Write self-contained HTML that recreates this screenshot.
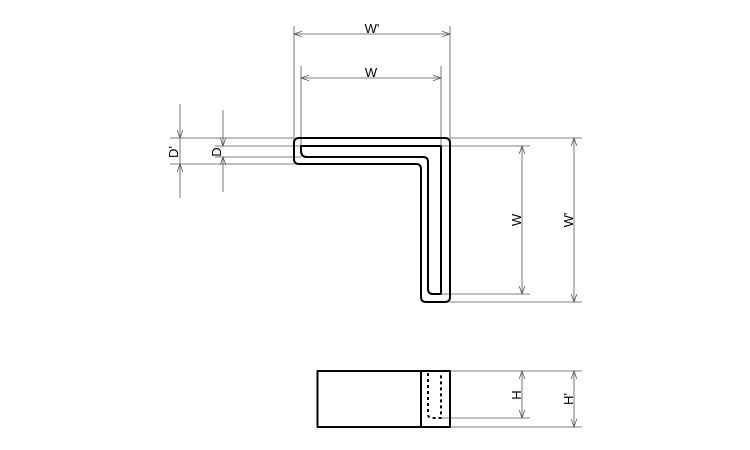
<!DOCTYPE html>
<html><head><style>body{margin:0;background:#fff}svg{display:block}text{font-family:"Liberation Sans",sans-serif;font-size:13px;fill:#000}</style></head><body>
<svg width="750" height="450" viewBox="0 0 750 450">
<defs>
<marker id="a" markerWidth="10" markerHeight="8" refX="8" refY="4" orient="auto-start-reverse" markerUnits="userSpaceOnUse"><path d="M0,1.2 L8,4 L0,6.8" fill="none" stroke="#555" stroke-width="0.8"/></marker>
</defs>
<g stroke="#555" stroke-width="0.8" fill="none">
<line x1="294" y1="26" x2="294" y2="138"/><line x1="450" y1="26" x2="450" y2="138"/>
<line x1="294" y1="34" x2="450" y2="34" marker-start="url(#a)" marker-end="url(#a)"/>
<line x1="301" y1="66" x2="301" y2="146"/><line x1="441" y1="66" x2="441" y2="146"/>
<line x1="301" y1="78" x2="441" y2="78" marker-start="url(#a)" marker-end="url(#a)"/>
<line x1="441" y1="146" x2="530" y2="146"/><line x1="441" y1="294" x2="530" y2="294"/>
<line x1="522" y1="146" x2="522" y2="294" marker-start="url(#a)" marker-end="url(#a)"/>
<line x1="450" y1="138" x2="582" y2="138"/><line x1="450" y1="302" x2="582" y2="302"/>
<line x1="574" y1="138" x2="574" y2="302" marker-start="url(#a)" marker-end="url(#a)"/>
<line x1="170" y1="138" x2="294" y2="138"/><line x1="170" y1="164" x2="294" y2="164"/>
<line x1="215" y1="146" x2="301" y2="146"/><line x1="215" y1="157" x2="301" y2="157"/>
<line x1="180" y1="104" x2="180" y2="138" marker-end="url(#a)"/><line x1="180" y1="198" x2="180" y2="164" marker-end="url(#a)"/><line x1="180" y1="138" x2="180" y2="164"/>
<line x1="223" y1="110" x2="223" y2="146" marker-end="url(#a)"/><line x1="223" y1="192" x2="223" y2="157" marker-end="url(#a)"/>
<line x1="450" y1="371" x2="582" y2="371"/><line x1="441" y1="418" x2="530" y2="418"/><line x1="450" y1="427" x2="582" y2="427"/>
<line x1="522" y1="371" x2="522" y2="418" marker-start="url(#a)" marker-end="url(#a)"/>
<line x1="574" y1="371" x2="574" y2="427" marker-start="url(#a)" marker-end="url(#a)"/>
</g>
<g stroke="#000" stroke-width="2" fill="none" stroke-linejoin="round">
<path d="M299,138 H445 Q450,138 450,143 V297 Q450,302 445,302 H426 Q421,302 421,297 V169 Q421,164 416,164 H299 Q294,164 294,159 V143 Q294,138 299,138 Z"/>
<path d="M301,146 H441 V294 H433 Q428,294 428,289 V162 Q428,157 423,157 H307 Q301,157 301,151 Z"/>
<rect x="317.5" y="371" width="132.5" height="56"/>
<line x1="421" y1="371" x2="421" y2="427"/>
<path d="M428,373 V414 Q428,418 432,418 H441 V373" stroke-dasharray="3,3"/>
</g>
<text x="372" y="33" text-anchor="middle">W'</text>
<text x="371" y="77" text-anchor="middle">W</text>
<text transform="translate(521,220) rotate(-90)" text-anchor="middle">W</text>
<text transform="translate(573,220) rotate(-90)" text-anchor="middle">W'</text>
<text transform="translate(178,152) rotate(-90)" text-anchor="middle">D'</text>
<text transform="translate(221,152) rotate(-90)" text-anchor="middle">D</text>
<text transform="translate(521,395) rotate(-90)" text-anchor="middle">H</text>
<text transform="translate(573,399) rotate(-90)" text-anchor="middle">H'</text>
</svg>
</body></html>
